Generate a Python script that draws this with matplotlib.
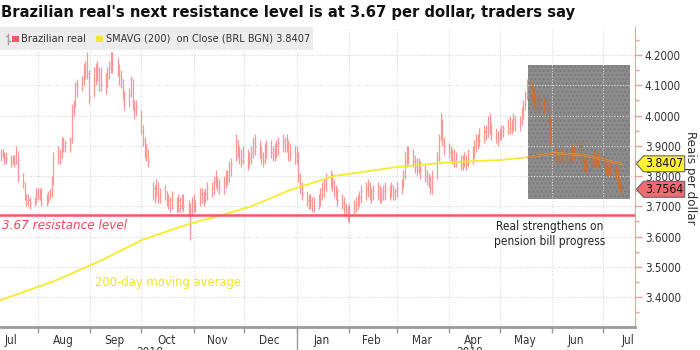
import matplotlib
matplotlib.use("Agg")
import matplotlib.pyplot as plt
import matplotlib.dates as mdates
import matplotlib.transforms as mtransforms
from matplotlib.patches import Rectangle
from matplotlib.path import Path
from matplotlib.lines import Line2D
from matplotlib import font_manager
import numpy as np
import pandas as pd

# ---------------- data (H, L, C) per trading day, by month ----------------
jul18 = [(3.89,3.85,3.87),(3.89,3.86,3.88),(3.88,3.84,3.86),(3.88,3.84,3.86),(3.87,3.83,3.85),(3.87,3.84,3.86),
         (3.87,3.83,3.84),(3.90,3.84,3.88),(3.88,3.78,3.80),(3.81,3.76,3.78),(3.78,3.72,3.73),(3.74,3.70,3.71),
         (3.74,3.70,3.72),(3.73,3.69,3.71),(3.73,3.70,3.71),(3.76,3.71,3.74)]
aug18 = [(3.76,3.72,3.73),(3.76,3.72,3.75),(3.76,3.70,3.71),(3.74,3.70,3.73),(3.75,3.71,3.73),(3.76,3.72,3.74),
         (3.80,3.73,3.78),(3.88,3.77,3.86),(3.90,3.84,3.88),(3.89,3.84,3.86),(3.93,3.86,3.92),(3.93,3.88,3.90),
         (3.92,3.88,3.91),(3.93,3.88,3.92),(4.04,3.91,4.03),(4.05,4.00,4.04),(4.11,4.03,4.10),(4.12,4.06,4.10),
         (4.13,4.08,4.12),(4.17,4.10,4.16),(4.18,4.12,4.15),(4.21,4.12,4.14),(4.15,4.04,4.06)]
sep18 = [(4.16,4.06,4.15),(4.17,4.10,4.15),(4.18,4.11,4.15),(4.16,4.08,4.12),(4.16,4.08,4.10),(4.14,4.07,4.10),
         (4.16,4.09,4.14),(4.18,4.12,4.16),(4.21,4.14,4.20),(4.21,4.14,4.17),(4.19,4.13,4.15),(4.17,4.10,4.13),
         (4.15,4.09,4.12),(4.12,4.05,4.08),(4.08,4.02,4.04),(4.09,4.03,4.07),(4.13,4.06,4.12),(4.12,4.02,4.04),
         (4.05,3.99,4.02),(4.05,4.00,4.03)]
oct18 = [(4.02,3.94,3.95),(3.97,3.90,3.92),(3.93,3.86,3.88),(3.91,3.85,3.87),(3.89,3.83,3.85),(3.78,3.72,3.76),
         (3.77,3.71,3.75),(3.79,3.73,3.76),(3.78,3.71,3.73),(3.76,3.71,3.74),(3.77,3.72,3.75),(3.75,3.70,3.71),
         (3.74,3.69,3.72),(3.73,3.68,3.70),(3.75,3.69,3.72),(3.73,3.68,3.69),(3.74,3.68,3.72),(3.73,3.68,3.70),
         (3.74,3.69,3.71),(3.74,3.68,3.70),(3.72,3.67,3.68),(3.71,3.59,3.69),(3.73,3.67,3.72)]
nov18 = [(3.74,3.68,3.70),(3.72,3.68,3.70),(3.76,3.70,3.74),(3.76,3.71,3.73),(3.75,3.70,3.72),(3.76,3.71,3.74),
         (3.78,3.72,3.76),(3.78,3.73,3.76),(3.80,3.74,3.78),(3.82,3.76,3.79),(3.80,3.75,3.77),(3.79,3.74,3.76),
         (3.80,3.74,3.78),(3.82,3.76,3.80),(3.82,3.77,3.79),(3.85,3.78,3.82),(3.86,3.80,3.84),(3.94,3.85,3.92),
         (3.92,3.86,3.88),(3.90,3.84,3.86),(3.89,3.83,3.85),(3.90,3.84,3.87)]
dec18 = [(3.89,3.82,3.85),(3.88,3.83,3.86),(3.90,3.84,3.88),(3.93,3.86,3.91),(3.94,3.87,3.90),(3.92,3.86,3.89),
         (3.90,3.84,3.86),(3.88,3.83,3.85),(3.91,3.84,3.89),(3.92,3.86,3.90),(3.92,3.86,3.88),(3.90,3.85,3.87),
         (3.91,3.85,3.88),(3.92,3.86,3.90),(3.93,3.87,3.91),(3.94,3.88,3.92),(3.93,3.88,3.92),(3.94,3.88,3.90),
         (3.92,3.85,3.87),(3.91,3.85,3.88),(3.90,3.84,3.87)]
jan19 = [(3.90,3.84,3.88),(3.88,3.78,3.80),(3.81,3.74,3.76),(3.78,3.72,3.74),(3.75,3.70,3.72),(3.74,3.69,3.71),
         (3.74,3.69,3.72),(3.73,3.68,3.70),(3.73,3.68,3.71),(3.74,3.69,3.72),(3.76,3.70,3.74),(3.78,3.72,3.76),
         (3.79,3.73,3.77),(3.81,3.75,3.79),(3.82,3.76,3.80),(3.81,3.75,3.78),(3.79,3.73,3.76),(3.77,3.72,3.74),
         (3.76,3.70,3.72),(3.74,3.69,3.71),(3.73,3.67,3.69),(3.71,3.67,3.68),(3.70,3.65,3.67)]
feb19 = [(3.71,3.645,3.69),(3.72,3.67,3.70),(3.73,3.68,3.71),(3.74,3.69,3.72),(3.75,3.70,3.73),(3.77,3.71,3.75),
         (3.78,3.72,3.76),(3.79,3.73,3.77),(3.78,3.72,3.74),(3.76,3.71,3.73),(3.77,3.72,3.75),(3.78,3.72,3.76),
         (3.77,3.71,3.74),(3.76,3.71,3.73),(3.77,3.72,3.75),(3.78,3.72,3.76),(3.77,3.72,3.75),(3.78,3.73,3.77),
         (3.77,3.72,3.74),(3.76,3.72,3.75)]
mar19 = [(3.78,3.73,3.76),(3.79,3.74,3.77),(3.82,3.76,3.80),(3.88,3.79,3.85),(3.90,3.83,3.87),(3.90,3.84,3.86),
         (3.89,3.83,3.85),(3.87,3.81,3.83),(3.86,3.80,3.82),(3.86,3.81,3.84),(3.85,3.79,3.82),(3.84,3.78,3.80),
         (3.82,3.77,3.79),(3.81,3.76,3.78),(3.80,3.74,3.76),(3.82,3.74,3.80),(3.88,3.79,3.86),(3.94,3.85,3.92),
         (4.01,3.92,3.98),(3.99,3.90,3.92),(3.93,3.87,3.90)]
apr19 = [(3.91,3.86,3.88),(3.90,3.85,3.87),(3.89,3.84,3.86),(3.89,3.83,3.85),(3.88,3.83,3.86),(3.87,3.82,3.84),
         (3.87,3.82,3.85),(3.88,3.83,3.85),(3.87,3.82,3.84),(3.89,3.83,3.87),(3.90,3.84,3.88),(3.92,3.86,3.90),
         (3.94,3.88,3.92),(3.94,3.89,3.93),(3.96,3.90,3.94),(3.97,3.91,3.95),(3.97,3.92,3.96),(4.00,3.93,3.98),
         (4.01,3.94,3.96),(3.98,3.92,3.94),(3.96,3.91,3.93),(3.95,3.90,3.92)]
may19 = [(3.96,3.92,3.94),(3.97,3.92,3.95),(3.97,3.93,3.96),(3.99,3.94,3.97),(4.00,3.94,3.96),(3.99,3.94,3.97),
         (4.01,3.95,3.99),(4.00,3.95,3.98),(4.00,3.95,3.98),(4.03,3.97,4.02),(4.05,3.99,4.04),(4.08,4.02,4.06),
         (4.12,4.05,4.10),(4.11,4.05,4.08),(4.09,4.03,4.04),(4.06,4.01,4.03),(4.07,4.02,4.05),(4.07,4.02,4.04),
         (4.06,4.01,4.03),(4.06,4.01,4.04),(4.06,4.00,4.03),(4.04,3.97,3.99),(4.00,3.90,3.92)]
jun19 = [(3.90,3.85,3.87),(3.89,3.84,3.86),(3.89,3.84,3.87),(3.89,3.85,3.88),(3.90,3.85,3.87),(3.89,3.84,3.86),
         (3.88,3.84,3.85),(3.89,3.84,3.87),(3.90,3.85,3.88),(3.90,3.86,3.89),(3.92,3.86,3.90),(3.91,3.85,3.86),
         (3.87,3.82,3.84),(3.86,3.82,3.85),(3.86,3.81,3.83),(3.86,3.82,3.84),(3.88,3.83,3.86),(3.89,3.83,3.85),
         (3.87,3.83,3.85),(3.88,3.83,3.84)]
jul19 = [(3.87,3.83,3.85),(3.86,3.82,3.84),(3.85,3.80,3.82),(3.84,3.80,3.81),(3.85,3.80,3.83),(3.84,3.80,3.81),
         (3.84,3.79,3.82),(3.82,3.76,3.78),(3.79,3.75,3.77),(3.78,3.74,3.7564)]

month_spans = [("2018-07-10","2018-07-31",jul18),("2018-08-01","2018-08-31",aug18),("2018-09-01","2018-09-30",sep18),
               ("2018-10-01","2018-10-31",oct18),("2018-11-01","2018-11-30",nov18),("2018-12-01","2018-12-31",dec18),
               ("2019-01-01","2019-01-31",jan19),("2019-02-01","2019-02-28",feb19),("2019-03-01","2019-03-31",mar19),
               ("2019-04-01","2019-04-30",apr19),("2019-05-01","2019-05-31",may19),("2019-06-01","2019-06-30",jun19),
               ("2019-07-01","2019-07-12",jul19)]

# 200-day simple moving average
sma_dates = ["2018-07-10","2018-08-12","2018-09-07","2018-10-02","2018-10-31","2018-11-17","2018-12-05",
             "2018-12-28","2019-01-23","2019-03-01","2019-04-02","2019-05-01","2019-05-19","2019-06-02",
             "2019-06-19","2019-07-12"]
sma_values = [3.390,3.456,3.520,3.590,3.645,3.670,3.700,3.754,3.800,3.830,3.846,3.853,3.863,3.876,3.870,3.8407]

resistance = 3.67
last_close = 3.7564
last_sma = 3.8407
box_start, box_end = "2019-05-18", "2019-07-17"
box_low, box_high = 3.724, 4.167

month_label_dates = ["2018-07-16","2018-08-16","2018-09-15","2018-10-16","2018-11-15","2018-12-16","2019-01-16",
                     "2019-02-14","2019-03-16","2019-04-15","2019-05-16","2019-06-15","2019-07-16"]
month_labels = ["Jul","Aug","Sep","Oct","Nov","Dec","Jan","Feb","Mar","Apr","May","Jun","Jul"]
month_starts = ["2018-08-01","2018-09-01","2018-10-01","2018-11-01","2018-12-01","2019-01-01","2019-02-01",
                "2019-03-01","2019-04-01","2019-05-01","2019-06-01","2019-07-01"]
year_labels = [("2018-10-06","2018"),("2019-04-13","2019")]
yticks = [3.4,3.5,3.6,3.7,3.8,3.9,4.0,4.1,4.2]

# ---------------- fonts ----------------
FAM, STR = "DejaVu Sans", "normal"
for f in font_manager.fontManager.ttflist:
    if f.name == "DejaVu Sans Condensed":
        FAM, STR = "DejaVu Sans Condensed", "normal"
        break
    if f.name == "DejaVu Sans" and str(f.stretch) in ("condensed", "semi-condensed"):
        FAM, STR = "DejaVu Sans", "condensed"
plt.rcParams["font.family"] = [FAM, "DejaVu Sans"]
plt.rcParams["font.stretch"] = STR

# ---------------- build series ----------------
dates, H, L, C = [], [], [], []
for s, e, rows in month_spans:
    for d, (h, l, c) in zip(pd.bdate_range(s, e), rows):
        dates.append(d); H.append(h); L.append(l); C.append(c)
xd = mdates.date2num(pd.to_datetime(dates))
bs, be = mdates.date2num(pd.to_datetime([box_start, box_end]))

W, Hh = 700, 350
fig = plt.figure(figsize=(7, 3.5), dpi=100)
fx = lambda px: px / W
fy = lambda py: 1 - py / Hh
ax = fig.add_axes([fx(0), fy(327), fx(635), (327 - 27) / Hh])

x0 = mdates.date2num(pd.Timestamp("2018-07-10"))
x1 = mdates.date2num(pd.Timestamp("2019-07-20"))
ax.set_xlim(x0 - 0.5, x1)
ax.set_ylim(3.301, 4.293)

BAR = "#ff9696"
BAR_BOX = "#c4703e"
cols = [BAR_BOX if x >= bs else BAR for x in xd]
ax.vlines(xd, L, H, colors=cols, lw=0.9, zorder=3)
ax.hlines(C, xd, xd + 0.6, colors=cols, lw=0.9, zorder=3)

# SMA line (yellow outside, brown inside the box)
sx = mdates.date2num(pd.to_datetime(sma_dates))
ax.plot(sx, sma_values, color="#f7ea2a", lw=1.3, zorder=4)
bx = [x for x in sx if x >= bs]
bv = [v for x, v in zip(sx, sma_values) if x >= bs]
yb = np.interp(bs, sx, sma_values)
ax.plot([bs] + bx, [yb] + bv, color="#c8783f", lw=1.3, zorder=5)

# gray box
ax.add_patch(Rectangle((bs, box_low), be - bs, box_high - box_low, facecolor="#8c8c8c",
                       edgecolor="#7a7a7a", hatch="....", lw=0, zorder=1.2))

# resistance line
ax.axhline(resistance, color="#ff5468", lw=1.8, zorder=6)

# axes, ticks, grid
ax.set_yticks(yticks)
ax.set_yticks(np.arange(3.35, 4.3, 0.1), minor=True)
ax.yaxis.tick_right()
ax.yaxis.set_major_formatter(matplotlib.ticker.FormatStrFormatter("%.4f"))
ax.set_xticks(mdates.date2num(pd.to_datetime(month_starts)))
ax.set_xticklabels([])
ax.set_xticks(mdates.date2num(pd.to_datetime(month_label_dates)), minor=True)
ax.set_xticklabels(month_labels, minor=True)
ax.grid(True, which="major", color="#d9d9d9", lw=0.8, ls=(0, (1, 1.5)))
ax.set_axisbelow("line")
ax.tick_params(axis="x", which="major", length=4, color="#9a9a9a", width=1)
ax.tick_params(axis="x", which="minor", length=0, pad=5, labelsize=8.5, labelcolor="#333333")
ax.tick_params(axis="y", which="major", length=5, color="#ff9a9a", width=1, pad=2,
               labelsize=8.3, labelcolor="#333333")
ax.tick_params(axis="y", which="minor", length=3, color="#ff9a9a", width=1)
for sp in ("left", "top"):
    ax.spines[sp].set_visible(False)
ax.spines["right"].set_color("#ff9a9a")
ax.spines["bottom"].set_color("#9a9a9a")
ax.spines["bottom"].set_linewidth(2)

# year separator tick and year labels
jan1 = mdates.date2num(pd.Timestamp("2019-01-01"))
btr = mtransforms.blended_transform_factory(ax.transData, ax.transAxes)
ax.plot([jan1, jan1], [0, -0.08], transform=btr, clip_on=False, color="#9a9a9a", lw=1)
for d, t in year_labels:
    ax.annotate(t, xy=(mdates.date2num(pd.Timestamp(d)), 0), xycoords=btr, xytext=(0, -19),
                textcoords="offset pixels", ha="center", va="top", fontsize=8.5, color="#333333",
                annotation_clip=False)

# y-axis title as a figure text so its place is exact
fig.text(fx(691), fy(178), "Reais per dollar", rotation=270, ha="center", va="center",
         fontsize=9.5, color="#333333")

# annotations (x in axes fraction, y in data)
atr = mtransforms.blended_transform_factory(ax.transAxes, ax.transData)
ax.text(0.003, resistance - 0.012, "3.67 resistance level", transform=atr, ha="left", va="top",
        style="italic", fontsize=9.6, color="#f2475b", zorder=7)
ax.text(550 / 635, resistance - 0.014, "Real strengthens on\npension bill progress", transform=atr,
        ha="center", va="top", fontsize=8.6, color="#222222", linespacing=1.25, zorder=7)
ax.text(95 / 635, 3.448, "200-day moving average", transform=atr, ha="left", va="center",
        fontsize=9.3, color="#f2e424", zorder=7)

# value tags on the axis
def tag_style(x0, y0, width, height, mutation_size):
    pad = 0.12 * mutation_size
    x0, y0, width, height = x0 - pad, y0 - pad, width + 2 * pad, height + 2 * pad
    tip = height * 0.45
    verts = [(x0, y0), (x0 + width, y0), (x0 + width, y0 + height), (x0, y0 + height),
             (x0 - tip, y0 + height / 2), (x0, y0)]
    return Path(verts, [Path.MOVETO] + [Path.LINETO] * 4 + [Path.CLOSEPOLY])

for val, fc in ((last_sma, "#fff034"), (last_close, "#f26a72")):
    ax.annotate(f"{val:.4f}", xy=(1, val), xycoords=atr, xytext=(10, 0), textcoords="offset pixels",
                ha="left", va="center", fontsize=8.8, color="#111111", annotation_clip=False, zorder=10,
                bbox=dict(boxstyle=tag_style, fc=fc, ec="#666666", lw=0.8))

# legend strip
fig.patches.append(Rectangle((fx(0), fy(50)), fx(313), (50 - 27) / Hh, transform=fig.transFigure,
                             facecolor="#ececec", edgecolor="none", zorder=0.5))
fig.patches.append(Rectangle((fx(12), fy(42)), fx(6.5), 6.5 / Hh, transform=fig.transFigure,
                             facecolor="#f25a6a", edgecolor="none", zorder=2))
fig.patches.append(Rectangle((fx(96), fy(42)), fx(6.5), 6.5 / Hh, transform=fig.transFigure,
                             facecolor="#f5e634", edgecolor="none", zorder=2))
fig.lines.append(Line2D([fx(7.5), fx(7.5)], [fy(34), fy(44)], transform=fig.transFigure, color="#a0a0a0", lw=1))
fig.lines.append(Line2D([fx(5.5), fx(7.5)], [fy(36), fy(36)], transform=fig.transFigure, color="#a0a0a0", lw=1))
fig.lines.append(Line2D([fx(7.5), fx(9.5)], [fy(41), fy(41)], transform=fig.transFigure, color="#a0a0a0", lw=1))
fig.text(fx(21), fy(38.5), "Brazilian real", ha="left", va="center", fontsize=7.9, color="#333333")
fig.text(fx(106), fy(38.5), "SMAVG (200)  on Close (BRL BGN) 3.8407", ha="left", va="center",
         fontsize=7.8, color="#333333")

# title
fig.text(fx(1), fy(13), "Brazilian real's next resistance level is at 3.67 per dollar, traders say",
         ha="left", va="center", fontsize=11.8, fontweight="bold", color="#111111")

fig.savefig("out.png", dpi=100)
